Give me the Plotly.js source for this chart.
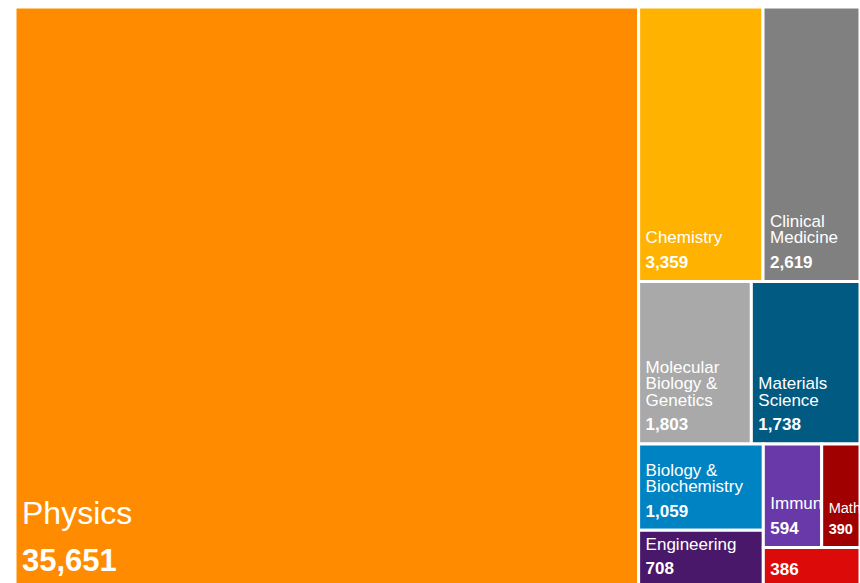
<!DOCTYPE html>
<html>
<head>
<meta charset="utf-8">
<script src="https://cdn.plot.ly/plotly-3.0.1.min.js"></script>
<style>
html, body { margin: 0; padding: 0; overflow: hidden; background: #fff; }
#chart { width: 860px; height: 590px; }
</style>
</head>
<body>
<div id="chart"></div>
<script>
// Data
var categories = ["Physics", "Chemistry", "Clinical Medicine", "Molecular Biology & Genetics",
  "Materials Science", "Biology & Biochemistry", "Engineering", "Immunology", "Mathematics",
  "Other"];
var values = [35651, 3359, 2619, 1803, 1738, 1059, 708, 594, 390, 386];
// Text as shown on the tiles (wrapped / truncated as in the picture)
var shownLabels = ["Physics", "Chemistry", "Clinical<br>Medicine", "Molecular<br>Biology &<br>Genetics",
  "Materials<br>Science", "Biology &<br>Biochemistry", "Engineering", "Immun", "Math", ""];
var tileColors = ["#FF8C00", "#FFB300", "#808080", "#A9A9A9", "#015A82", "#0083C3",
  "#4A186A", "#6939A9", "#A10000", "#DD0A0A"];
var rootName = "All fields";

function isBig(i) { return values[i] === Math.max.apply(null, values); }

var ids = [rootName].concat(categories);
var labels = [rootName].concat(categories);
var parents = [""].concat(categories.map(function () { return rootName; }));
var vals = [0].concat(values);
var texts = [""].concat(shownLabels.map(function (s, i) {
  var big = isBig(i);
  var lab = big ? 32 : 17, num = big ? 31 : 17, drop = big ? 0 : 7.5;
  var labelPart = s ? s.split("<br>").map(function (line) {
    return '<span style="font-size:' + lab + 'px">' + line + '</span>';
  }).join("<br>") + "<br>" : "";
  return labelPart + '<span style="font-size:' + num + 'px;baseline-shift:-' + drop + 'px"><b>' +
    values[i].toLocaleString("en-US") + '</b></span>';
}));
var colors = ["white"].concat(tileColors);
var lineSizes = [1].concat(categories.map(function (c, i) { return isBig(i) ? 36 : 12.7; }));

var trace = {
  type: "treemap",
  ids: ids,
  labels: labels,
  parents: parents,
  values: vals,
  branchvalues: "remainder",
  text: texts,
  textinfo: "text",
  textposition: "bottom left",
  textfont: { family: "Liberation Sans, Arial, sans-serif", color: "white", size: lineSizes },
  marker: {
    colors: colors,
    line: { color: "white", width: 3 },
    pad: { t: 0, l: 0, r: 0, b: 0 },
    cornerradius: 4
  },
  tiling: { packing: "squarify", squarifyratio: 1.618, pad: 0 },
  pathbar: { visible: false },
  sort: true,
  hoverinfo: "none"
};

var layout = {
  width: 860,
  height: 590,
  margin: { l: 15, r: 0, t: 7, b: 2 },
  paper_bgcolor: "white",
  showlegend: false
};

Plotly.newPlot("chart", [trace], layout, { displayModeBar: false }).then(function () {
  // inner text padding like the reference (label block inset from the tile corner)
  document.querySelectorAll("#chart .treemaplayer text").forEach(function (t) {
    var tr = t.getAttribute("transform") || "";
    t.setAttribute("transform", "translate(4,-7) " + tr);
  });
});
</script>
</body>
</html>
